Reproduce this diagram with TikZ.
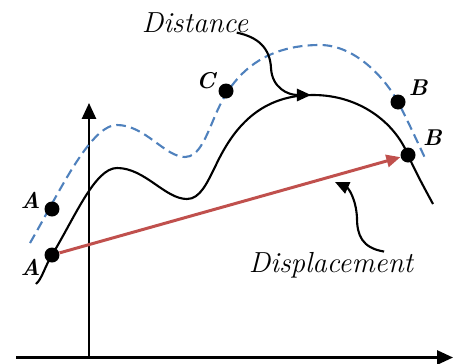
\documentclass[tikz,border=0pt]{standalone}
\usepackage{xcolor}
\usepackage{tikz}
\usetikzlibrary{arrows.meta, positioning}
\definecolor{pathred}{RGB}{192,80,77}
\definecolor{pathblue}{RGB}{79,129,189}

\begin{document}
\begin{tikzpicture}[
    x=0.02cm, y=0.02cm,
    >={Triangle[length=8pt, width=7pt]},
    axis/.style={line width=1.2pt, -{Triangle[length=9pt, width=8pt]}},
    route/.style={line width=1.2pt},
    detour/.style={line width=1.2pt, pathblue, dash pattern=on 5.5pt off 3pt},
    dot/.style={circle, fill=black, inner sep=0pt, minimum size=0.3cm},
    lbl/.style={inner sep=0pt, font=\fontsize{13}{15}\selectfont\bfseries\itshape},
    word/.style={inner sep=0pt, anchor=base, font=\fontsize{16.5}{19}\selectfont\itshape},
    pointer/.style={line width=1.2pt, ->},
]
    \useasboundingbox (0,0) rectangle (459,363);

    % Axes
    \coordinate (xstart) at (16,5.5);
    \coordinate (xend) at (453,5.5);
    \coordinate (ystart) at (89,7);
    \coordinate (yend) at (89,260);
    \draw[axis] (xstart) -- (xend);
    \draw[axis] (ystart) -- (yend);

    % Dashed path
    \draw[detour] (30,120) .. controls (58,168) and (90,238) .. (117,238)
        .. controls (145,238) and (165,206) .. (185,206)
        .. controls (199,206) and (206,226) .. (215,247)
        .. controls (226,273) and (250,318) .. (320,318)
        .. controls (355,318) and (385,285) .. (398,261)
        .. controls (406,246) and (417,222) .. (425,205);

    % Solid path
    \draw[route] (36,79) .. controls (42,84) and (45,97) .. (52,108)
        .. controls (75,146) and (95,195) .. (117,195)
        .. controls (145,195) and (165,164) .. (187,164)
        .. controls (200,164) and (207,180) .. (215,196)
        .. controls (230,228) and (255,268) .. (313,268)
        .. controls (360,268) and (395,240) .. (408,208)
        .. controls (416,190) and (426,172) .. (433,159);

    % Dots
    \node[dot] (a1) at (52,154) {};
    \node[dot] (a2) at (52,108) {};
    \node[dot] (c) at (226,272) {};
    \node[dot] (b1) at (398,261) {};
    \node[dot] (b2) at (408,208) {};

    % Labels
    \node[lbl, left=2pt of a1, yshift=5pt] (la1) {A};
    \node[lbl, left=2pt of a2, yshift=-7pt] (la2) {A};
    \node[lbl, left=1.5pt of c, yshift=6pt] (lc) {C};
    \node[lbl, right=1.5pt of b1, yshift=8pt] (lb1) {B};
    \node[lbl, right=4pt of b2, yshift=10pt] (lb2) {B};

    % Displacement vector
    \draw[line width=1.7pt, pathred, ->] (a2) -- (b2);

    % Captions
    \node[word] (dist) at (195,331) {Distance};
    \node[word] (disp) at (331,91) {Displacement};
    \coordinate (disttip) at (311,268);
    \coordinate (disptip) at (335,181);
    \draw[pointer] (dist.-14) .. controls (258,326) and (270,315) .. (271,295)
        .. controls (272,275) and (288,268) .. (disttip);
    \draw[pointer] (disp.14) .. controls (362,115) and (357,128) .. (357,145)
        .. controls (356,165) and (348,175) .. (disptip);

\end{tikzpicture}
\end{document}
